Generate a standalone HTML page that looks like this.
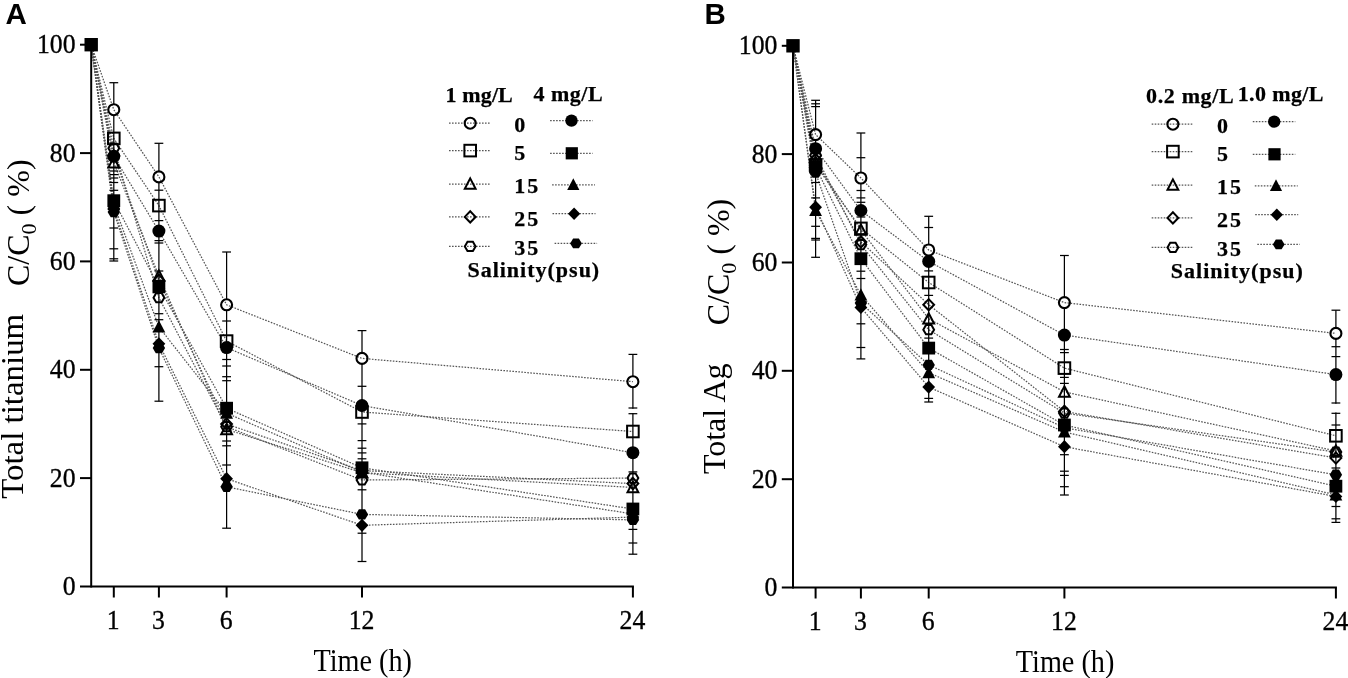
<!DOCTYPE html>
<html><head><meta charset="utf-8"><style>
html,body{margin:0;padding:0;background:#fff;overflow:hidden;}
svg{display:block;filter:grayscale(1);}
.tk{font-family:"Liberation Serif",serif;font-size:28px;fill:#000;stroke:#000;stroke-width:0.35px;}
.lg{font-family:"Liberation Serif",serif;font-weight:bold;font-size:22px;fill:#000;stroke:#000;stroke-width:0.25px;}
.pl{font-family:"Liberation Sans",sans-serif;font-weight:bold;font-size:29.5px;fill:#000;}
.ax{font-family:"Liberation Serif",serif;font-size:31px;fill:#000;}
.yt{font-family:"Liberation Serif",serif;font-size:32px;fill:#000;}
.sub{font-size:22px;}
</style></head><body>
<svg width="1348" height="678" viewBox="0 0 1348 678">
<path d="M91.2,44.7 L113.8,109.7 L158.9,176.9 L226.6,304.8 L362.0,358.4 L632.9,381.7" stroke="#555" stroke-width="1.25" stroke-dasharray="1.6 1.4" fill="none"/>
<path d="M91.2,44.7 L113.8,138.4 L158.9,205.6 L226.6,341.1 L362.0,412.0 L632.9,431.5" stroke="#555" stroke-width="1.25" stroke-dasharray="1.6 1.4" fill="none"/>
<path d="M91.2,44.7 L113.8,162.8 L158.9,276.0 L226.6,429.4 L362.0,472.7 L632.9,487.4" stroke="#555" stroke-width="1.25" stroke-dasharray="1.6 1.4" fill="none"/>
<path d="M91.2,44.7 L113.8,155.8 L158.9,280.4 L226.6,424.0 L362.0,470.6 L632.9,483.6" stroke="#555" stroke-width="1.25" stroke-dasharray="1.6 1.4" fill="none"/>
<path d="M91.2,44.7 L113.8,148.2 L158.9,297.7 L226.6,426.7 L362.0,480.0 L632.9,478.1" stroke="#555" stroke-width="1.25" stroke-dasharray="1.6 1.4" fill="none"/>
<path d="M91.2,44.7 L113.8,156.3 L158.9,231.1 L226.6,347.6 L362.0,405.5 L632.9,452.7" stroke="#555" stroke-width="1.25" stroke-dasharray="1.6 1.4" fill="none"/>
<path d="M91.2,44.7 L113.8,200.7 L158.9,286.9 L226.6,408.2 L362.0,467.8 L632.9,509.0" stroke="#555" stroke-width="1.25" stroke-dasharray="1.6 1.4" fill="none"/>
<path d="M91.2,44.7 L113.8,204.5 L158.9,327.0 L226.6,413.1 L362.0,472.2 L632.9,513.9" stroke="#555" stroke-width="1.25" stroke-dasharray="1.6 1.4" fill="none"/>
<path d="M91.2,44.7 L113.8,208.3 L158.9,343.8 L226.6,478.7 L362.0,525.3 L632.9,517.1" stroke="#555" stroke-width="1.25" stroke-dasharray="1.6 1.4" fill="none"/>
<path d="M91.2,44.7 L113.8,212.1 L158.9,348.1 L226.6,486.8 L362.0,514.4 L632.9,519.9" stroke="#555" stroke-width="1.25" stroke-dasharray="1.6 1.4" fill="none"/>
<line x1="113.8" y1="82.7" x2="113.8" y2="104.7" stroke="#000" stroke-width="1.25"/>
<line x1="113.8" y1="114.7" x2="113.8" y2="261.0" stroke="#000" stroke-width="1.25"/>
<line x1="109.4" y1="82.7" x2="118.2" y2="82.7" stroke="#000" stroke-width="1.25"/>
<line x1="109.4" y1="171.0" x2="118.2" y2="171.0" stroke="#000" stroke-width="1.25"/>
<line x1="109.4" y1="174.6" x2="118.2" y2="174.6" stroke="#000" stroke-width="1.25"/>
<line x1="109.4" y1="178.0" x2="118.2" y2="178.0" stroke="#000" stroke-width="1.25"/>
<line x1="109.4" y1="182.5" x2="118.2" y2="182.5" stroke="#000" stroke-width="1.25"/>
<line x1="109.4" y1="190.3" x2="118.2" y2="190.3" stroke="#000" stroke-width="1.25"/>
<line x1="109.4" y1="228.0" x2="118.2" y2="228.0" stroke="#000" stroke-width="1.25"/>
<line x1="109.4" y1="248.8" x2="118.2" y2="248.8" stroke="#000" stroke-width="1.25"/>
<line x1="109.4" y1="258.8" x2="118.2" y2="258.8" stroke="#000" stroke-width="1.25"/>
<line x1="109.4" y1="261.0" x2="118.2" y2="261.0" stroke="#000" stroke-width="1.25"/>
<line x1="158.9" y1="143.3" x2="158.9" y2="171.9" stroke="#000" stroke-width="1.25"/>
<line x1="158.9" y1="181.9" x2="158.9" y2="401.2" stroke="#000" stroke-width="1.25"/>
<line x1="154.5" y1="143.3" x2="163.3" y2="143.3" stroke="#000" stroke-width="1.25"/>
<line x1="154.5" y1="190.2" x2="163.3" y2="190.2" stroke="#000" stroke-width="1.25"/>
<line x1="154.5" y1="220.6" x2="163.3" y2="220.6" stroke="#000" stroke-width="1.25"/>
<line x1="154.5" y1="240.6" x2="163.3" y2="240.6" stroke="#000" stroke-width="1.25"/>
<line x1="154.5" y1="243.0" x2="163.3" y2="243.0" stroke="#000" stroke-width="1.25"/>
<line x1="154.5" y1="271.0" x2="163.3" y2="271.0" stroke="#000" stroke-width="1.25"/>
<line x1="154.5" y1="313.7" x2="163.3" y2="313.7" stroke="#000" stroke-width="1.25"/>
<line x1="154.5" y1="319.7" x2="163.3" y2="319.7" stroke="#000" stroke-width="1.25"/>
<line x1="154.5" y1="366.7" x2="163.3" y2="366.7" stroke="#000" stroke-width="1.25"/>
<line x1="154.5" y1="401.2" x2="163.3" y2="401.2" stroke="#000" stroke-width="1.25"/>
<line x1="226.6" y1="252.0" x2="226.6" y2="299.8" stroke="#000" stroke-width="1.25"/>
<line x1="226.6" y1="309.8" x2="226.6" y2="528.2" stroke="#000" stroke-width="1.25"/>
<line x1="222.2" y1="252.0" x2="231.0" y2="252.0" stroke="#000" stroke-width="1.25"/>
<line x1="222.2" y1="321.0" x2="231.0" y2="321.0" stroke="#000" stroke-width="1.25"/>
<line x1="222.2" y1="359.5" x2="231.0" y2="359.5" stroke="#000" stroke-width="1.25"/>
<line x1="222.2" y1="366.0" x2="231.0" y2="366.0" stroke="#000" stroke-width="1.25"/>
<line x1="222.2" y1="376.7" x2="231.0" y2="376.7" stroke="#000" stroke-width="1.25"/>
<line x1="222.2" y1="380.7" x2="231.0" y2="380.7" stroke="#000" stroke-width="1.25"/>
<line x1="222.2" y1="441.0" x2="231.0" y2="441.0" stroke="#000" stroke-width="1.25"/>
<line x1="222.2" y1="445.8" x2="231.0" y2="445.8" stroke="#000" stroke-width="1.25"/>
<line x1="222.2" y1="465.0" x2="231.0" y2="465.0" stroke="#000" stroke-width="1.25"/>
<line x1="222.2" y1="528.2" x2="231.0" y2="528.2" stroke="#000" stroke-width="1.25"/>
<line x1="362.0" y1="330.6" x2="362.0" y2="353.4" stroke="#000" stroke-width="1.25"/>
<line x1="362.0" y1="363.4" x2="362.0" y2="561.5" stroke="#000" stroke-width="1.25"/>
<line x1="357.6" y1="330.6" x2="366.4" y2="330.6" stroke="#000" stroke-width="1.25"/>
<line x1="357.6" y1="386.3" x2="366.4" y2="386.3" stroke="#000" stroke-width="1.25"/>
<line x1="357.6" y1="423.9" x2="366.4" y2="423.9" stroke="#000" stroke-width="1.25"/>
<line x1="357.6" y1="440.6" x2="366.4" y2="440.6" stroke="#000" stroke-width="1.25"/>
<line x1="357.6" y1="448.2" x2="366.4" y2="448.2" stroke="#000" stroke-width="1.25"/>
<line x1="357.6" y1="452.9" x2="366.4" y2="452.9" stroke="#000" stroke-width="1.25"/>
<line x1="357.6" y1="458.8" x2="366.4" y2="458.8" stroke="#000" stroke-width="1.25"/>
<line x1="357.6" y1="489.8" x2="366.4" y2="489.8" stroke="#000" stroke-width="1.25"/>
<line x1="357.6" y1="533.2" x2="366.4" y2="533.2" stroke="#000" stroke-width="1.25"/>
<line x1="357.6" y1="561.5" x2="366.4" y2="561.5" stroke="#000" stroke-width="1.25"/>
<line x1="632.9" y1="354.4" x2="632.9" y2="376.7" stroke="#000" stroke-width="1.25"/>
<line x1="632.9" y1="386.7" x2="632.9" y2="408.7" stroke="#000" stroke-width="1.25"/>
<line x1="632.9" y1="413.0" x2="632.9" y2="554.2" stroke="#000" stroke-width="1.25"/>
<line x1="628.5" y1="354.4" x2="637.3" y2="354.4" stroke="#000" stroke-width="1.25"/>
<line x1="628.5" y1="408.0" x2="637.3" y2="408.0" stroke="#000" stroke-width="1.25"/>
<line x1="628.5" y1="413.7" x2="637.3" y2="413.7" stroke="#000" stroke-width="1.25"/>
<line x1="628.5" y1="471.9" x2="637.3" y2="471.9" stroke="#000" stroke-width="1.25"/>
<line x1="628.5" y1="529.4" x2="637.3" y2="529.4" stroke="#000" stroke-width="1.25"/>
<line x1="628.5" y1="543.0" x2="637.3" y2="543.0" stroke="#000" stroke-width="1.25"/>
<line x1="628.5" y1="554.2" x2="637.3" y2="554.2" stroke="#000" stroke-width="1.25"/>
<circle cx="113.8" cy="109.7" r="5.50" fill="none" stroke="#000" stroke-width="2.1"/>
<circle cx="158.9" cy="176.9" r="5.50" fill="none" stroke="#000" stroke-width="2.1"/>
<circle cx="226.6" cy="304.8" r="5.50" fill="none" stroke="#000" stroke-width="2.1"/>
<circle cx="362.0" cy="358.4" r="5.50" fill="none" stroke="#000" stroke-width="2.1"/>
<circle cx="632.9" cy="381.7" r="5.50" fill="none" stroke="#000" stroke-width="2.1"/>
<rect x="108.0" y="132.6" width="11.6" height="11.6" fill="none" stroke="#000" stroke-width="2.0"/>
<rect x="153.1" y="199.8" width="11.6" height="11.6" fill="none" stroke="#000" stroke-width="2.0"/>
<rect x="220.8" y="335.3" width="11.6" height="11.6" fill="none" stroke="#000" stroke-width="2.0"/>
<rect x="356.2" y="406.2" width="11.6" height="11.6" fill="none" stroke="#000" stroke-width="2.0"/>
<rect x="627.1" y="425.7" width="11.6" height="11.6" fill="none" stroke="#000" stroke-width="2.0"/>
<polygon points="113.8,157.2 119.2,167.6 108.4,167.6" fill="none" stroke="#000" stroke-width="2.0" stroke-linejoin="miter"/>
<polygon points="158.9,270.4 164.3,280.8 153.5,280.8" fill="none" stroke="#000" stroke-width="2.0" stroke-linejoin="miter"/>
<polygon points="226.6,423.8 232.0,434.2 221.2,434.2" fill="none" stroke="#000" stroke-width="2.0" stroke-linejoin="miter"/>
<polygon points="362.0,467.1 367.4,477.5 356.6,477.5" fill="none" stroke="#000" stroke-width="2.0" stroke-linejoin="miter"/>
<polygon points="632.9,481.8 638.3,492.2 627.5,492.2" fill="none" stroke="#000" stroke-width="2.0" stroke-linejoin="miter"/>
<polygon points="113.8,150.2 119.2,155.8 113.8,161.4 108.4,155.8" fill="none" stroke="#000" stroke-width="2.0" stroke-linejoin="miter"/>
<polygon points="158.9,274.8 164.3,280.4 158.9,286.0 153.5,280.4" fill="none" stroke="#000" stroke-width="2.0" stroke-linejoin="miter"/>
<polygon points="226.6,418.4 232.0,424.0 226.6,429.6 221.2,424.0" fill="none" stroke="#000" stroke-width="2.0" stroke-linejoin="miter"/>
<polygon points="362.0,465.0 367.4,470.6 362.0,476.2 356.6,470.6" fill="none" stroke="#000" stroke-width="2.0" stroke-linejoin="miter"/>
<polygon points="632.9,478.0 638.3,483.6 632.9,489.2 627.5,483.6" fill="none" stroke="#000" stroke-width="2.0" stroke-linejoin="miter"/>
<polygon points="108.4,148.2 111.1,143.6 116.5,143.6 119.2,148.2 116.5,152.8 111.1,152.8" fill="none" stroke="#000" stroke-width="2.0" stroke-linejoin="miter"/>
<polygon points="153.5,297.7 156.2,293.1 161.6,293.1 164.3,297.7 161.6,302.3 156.2,302.3" fill="none" stroke="#000" stroke-width="2.0" stroke-linejoin="miter"/>
<polygon points="221.2,426.7 223.9,422.1 229.3,422.1 232.0,426.7 229.3,431.3 223.9,431.3" fill="none" stroke="#000" stroke-width="2.0" stroke-linejoin="miter"/>
<polygon points="356.6,480.0 359.3,475.4 364.7,475.4 367.4,480.0 364.7,484.6 359.3,484.6" fill="none" stroke="#000" stroke-width="2.0" stroke-linejoin="miter"/>
<polygon points="627.5,478.1 630.2,473.5 635.6,473.5 638.3,478.1 635.6,482.7 630.2,482.7" fill="none" stroke="#000" stroke-width="2.0" stroke-linejoin="miter"/>
<circle cx="113.8" cy="156.3" r="6.50" fill="#000"/>
<circle cx="158.9" cy="231.1" r="6.50" fill="#000"/>
<circle cx="226.6" cy="347.6" r="6.50" fill="#000"/>
<circle cx="362.0" cy="405.5" r="6.50" fill="#000"/>
<circle cx="632.9" cy="452.7" r="6.50" fill="#000"/>
<rect x="107.4" y="194.3" width="12.8" height="12.8" fill="#000"/>
<rect x="152.5" y="280.5" width="12.8" height="12.8" fill="#000"/>
<rect x="220.2" y="401.8" width="12.8" height="12.8" fill="#000"/>
<rect x="355.6" y="461.4" width="12.8" height="12.8" fill="#000"/>
<rect x="626.5" y="502.6" width="12.8" height="12.8" fill="#000"/>
<polygon points="113.8,197.7 120.2,210.1 107.4,210.1" fill="#000"/>
<polygon points="158.9,320.2 165.3,332.6 152.5,332.6" fill="#000"/>
<polygon points="226.6,406.3 233.0,418.7 220.2,418.7" fill="#000"/>
<polygon points="362.0,465.4 368.4,477.8 355.6,477.8" fill="#000"/>
<polygon points="632.9,507.1 639.3,519.5 626.5,519.5" fill="#000"/>
<polygon points="113.8,201.7 120.2,208.3 113.8,214.9 107.4,208.3" fill="#000"/>
<polygon points="158.9,337.2 165.3,343.8 158.9,350.4 152.5,343.8" fill="#000"/>
<polygon points="226.6,472.1 233.0,478.7 226.6,485.3 220.2,478.7" fill="#000"/>
<polygon points="362.0,518.7 368.4,525.3 362.0,531.9 355.6,525.3" fill="#000"/>
<polygon points="632.9,510.5 639.3,517.1 632.9,523.7 626.5,517.1" fill="#000"/>
<polygon points="107.6,212.1 110.7,206.9 116.9,206.9 120.0,212.1 116.9,217.3 110.7,217.3" fill="#000"/>
<polygon points="152.7,348.1 155.8,342.9 162.0,342.9 165.1,348.1 162.0,353.3 155.8,353.3" fill="#000"/>
<polygon points="220.4,486.8 223.5,481.6 229.7,481.6 232.8,486.8 229.7,492.0 223.5,492.0" fill="#000"/>
<polygon points="355.8,514.4 358.9,509.2 365.1,509.2 368.2,514.4 365.1,519.6 358.9,519.6" fill="#000"/>
<polygon points="626.7,519.9 629.8,514.7 636.0,514.7 639.1,519.9 636.0,525.1 629.8,525.1" fill="#000"/>
<line x1="91.2" y1="44.7" x2="91.2" y2="587.5" stroke="#000" stroke-width="2"/>
<line x1="80.0" y1="586.5" x2="633.9" y2="586.5" stroke="#000" stroke-width="2"/>
<line x1="80.0" y1="478.1" x2="91.2" y2="478.1" stroke="#000" stroke-width="2"/>
<line x1="80.0" y1="369.8" x2="91.2" y2="369.8" stroke="#000" stroke-width="2"/>
<line x1="80.0" y1="261.4" x2="91.2" y2="261.4" stroke="#000" stroke-width="2"/>
<line x1="80.0" y1="153.1" x2="91.2" y2="153.1" stroke="#000" stroke-width="2"/>
<line x1="80.0" y1="44.7" x2="91.2" y2="44.7" stroke="#000" stroke-width="2"/>
<line x1="113.8" y1="586.5" x2="113.8" y2="597.5" stroke="#000" stroke-width="2"/>
<line x1="158.9" y1="586.5" x2="158.9" y2="597.5" stroke="#000" stroke-width="2"/>
<line x1="226.6" y1="586.5" x2="226.6" y2="597.5" stroke="#000" stroke-width="2"/>
<line x1="362.0" y1="586.5" x2="362.0" y2="597.5" stroke="#000" stroke-width="2"/>
<line x1="632.9" y1="586.5" x2="632.9" y2="597.5" stroke="#000" stroke-width="2"/>
<rect x="84.5" y="38.0" width="13.4" height="13.4" fill="#000"/>
<text transform="translate(75.6,594.9) scale(0.92,1)" class="tk" text-anchor="end">0</text>
<text transform="translate(75.6,486.5) scale(0.92,1)" class="tk" text-anchor="end">20</text>
<text transform="translate(75.6,378.2) scale(0.92,1)" class="tk" text-anchor="end">40</text>
<text transform="translate(75.6,269.8) scale(0.92,1)" class="tk" text-anchor="end">60</text>
<text transform="translate(75.6,161.5) scale(0.92,1)" class="tk" text-anchor="end">80</text>
<text transform="translate(75.6,53.1) scale(0.92,1)" class="tk" text-anchor="end">100</text>
<text transform="translate(113.3,628.8) scale(0.92,1)" class="tk" text-anchor="middle">1</text>
<text transform="translate(158.4,628.8) scale(0.92,1)" class="tk" text-anchor="middle">3</text>
<text transform="translate(226.1,628.8) scale(0.92,1)" class="tk" text-anchor="middle">6</text>
<text transform="translate(361.5,628.8) scale(0.92,1)" class="tk" text-anchor="middle">12</text>
<text transform="translate(632.4,628.8) scale(0.92,1)" class="tk" text-anchor="middle">24</text>
<path d="M793.0,45.8 L815.6,134.6 L860.9,178.0 L928.7,250.0 L1064.4,302.6 L1335.9,333.4" stroke="#555" stroke-width="1.25" stroke-dasharray="1.6 1.4" fill="none"/>
<path d="M793.0,45.8 L815.6,165.0 L860.9,228.4 L928.7,282.5 L1064.4,368.1 L1335.9,435.8" stroke="#555" stroke-width="1.25" stroke-dasharray="1.6 1.4" fill="none"/>
<path d="M793.0,45.8 L815.6,162.3 L860.9,230.0 L928.7,318.8 L1064.4,391.9 L1335.9,451.0" stroke="#555" stroke-width="1.25" stroke-dasharray="1.6 1.4" fill="none"/>
<path d="M793.0,45.8 L815.6,159.6 L860.9,241.9 L928.7,304.7 L1064.4,411.4 L1335.9,458.0" stroke="#555" stroke-width="1.25" stroke-dasharray="1.6 1.4" fill="none"/>
<path d="M793.0,45.8 L815.6,155.2 L860.9,244.6 L928.7,329.7 L1064.4,413.1 L1335.9,452.1" stroke="#555" stroke-width="1.25" stroke-dasharray="1.6 1.4" fill="none"/>
<path d="M793.0,45.8 L815.6,148.7 L860.9,210.5 L928.7,261.4 L1064.4,335.1 L1335.9,374.6" stroke="#555" stroke-width="1.25" stroke-dasharray="1.6 1.4" fill="none"/>
<path d="M793.0,45.8 L815.6,167.1 L860.9,258.7 L928.7,348.1 L1064.4,425.0 L1335.9,486.2" stroke="#555" stroke-width="1.25" stroke-dasharray="1.6 1.4" fill="none"/>
<path d="M793.0,45.8 L815.6,210.5 L860.9,295.0 L928.7,372.7 L1064.4,432.0 L1335.9,494.9" stroke="#555" stroke-width="1.25" stroke-dasharray="1.6 1.4" fill="none"/>
<path d="M793.0,45.8 L815.6,207.2 L860.9,307.4 L928.7,387.1 L1064.4,446.7 L1335.9,496.5" stroke="#555" stroke-width="1.25" stroke-dasharray="1.6 1.4" fill="none"/>
<path d="M793.0,45.8 L815.6,172.6 L860.9,303.1 L928.7,364.9 L1064.4,427.7 L1335.9,474.8" stroke="#555" stroke-width="1.25" stroke-dasharray="1.6 1.4" fill="none"/>
<line x1="815.6" y1="100.3" x2="815.6" y2="129.6" stroke="#000" stroke-width="1.25"/>
<line x1="815.6" y1="139.6" x2="815.6" y2="257.3" stroke="#000" stroke-width="1.25"/>
<line x1="811.2" y1="100.3" x2="820.0" y2="100.3" stroke="#000" stroke-width="1.25"/>
<line x1="811.2" y1="103.8" x2="820.0" y2="103.8" stroke="#000" stroke-width="1.25"/>
<line x1="811.2" y1="106.6" x2="820.0" y2="106.6" stroke="#000" stroke-width="1.25"/>
<line x1="811.2" y1="182.5" x2="820.0" y2="182.5" stroke="#000" stroke-width="1.25"/>
<line x1="811.2" y1="197.9" x2="820.0" y2="197.9" stroke="#000" stroke-width="1.25"/>
<line x1="811.2" y1="226.3" x2="820.0" y2="226.3" stroke="#000" stroke-width="1.25"/>
<line x1="811.2" y1="238.4" x2="820.0" y2="238.4" stroke="#000" stroke-width="1.25"/>
<line x1="811.2" y1="240.0" x2="820.0" y2="240.0" stroke="#000" stroke-width="1.25"/>
<line x1="811.2" y1="257.3" x2="820.0" y2="257.3" stroke="#000" stroke-width="1.25"/>
<line x1="860.9" y1="133.0" x2="860.9" y2="173.0" stroke="#000" stroke-width="1.25"/>
<line x1="860.9" y1="183.0" x2="860.9" y2="358.9" stroke="#000" stroke-width="1.25"/>
<line x1="856.5" y1="133.0" x2="865.3" y2="133.0" stroke="#000" stroke-width="1.25"/>
<line x1="856.5" y1="157.7" x2="865.3" y2="157.7" stroke="#000" stroke-width="1.25"/>
<line x1="856.5" y1="190.5" x2="865.3" y2="190.5" stroke="#000" stroke-width="1.25"/>
<line x1="856.5" y1="197.9" x2="865.3" y2="197.9" stroke="#000" stroke-width="1.25"/>
<line x1="856.5" y1="202.3" x2="865.3" y2="202.3" stroke="#000" stroke-width="1.25"/>
<line x1="856.5" y1="217.0" x2="865.3" y2="217.0" stroke="#000" stroke-width="1.25"/>
<line x1="856.5" y1="271.2" x2="865.3" y2="271.2" stroke="#000" stroke-width="1.25"/>
<line x1="856.5" y1="278.5" x2="865.3" y2="278.5" stroke="#000" stroke-width="1.25"/>
<line x1="856.5" y1="323.8" x2="865.3" y2="323.8" stroke="#000" stroke-width="1.25"/>
<line x1="856.5" y1="347.5" x2="865.3" y2="347.5" stroke="#000" stroke-width="1.25"/>
<line x1="856.5" y1="358.9" x2="865.3" y2="358.9" stroke="#000" stroke-width="1.25"/>
<line x1="928.7" y1="216.3" x2="928.7" y2="245.0" stroke="#000" stroke-width="1.25"/>
<line x1="928.7" y1="255.0" x2="928.7" y2="402.0" stroke="#000" stroke-width="1.25"/>
<line x1="924.3" y1="216.3" x2="933.1" y2="216.3" stroke="#000" stroke-width="1.25"/>
<line x1="924.3" y1="227.5" x2="933.1" y2="227.5" stroke="#000" stroke-width="1.25"/>
<line x1="924.3" y1="270.9" x2="933.1" y2="270.9" stroke="#000" stroke-width="1.25"/>
<line x1="924.3" y1="295.4" x2="933.1" y2="295.4" stroke="#000" stroke-width="1.25"/>
<line x1="924.3" y1="338.1" x2="933.1" y2="338.1" stroke="#000" stroke-width="1.25"/>
<line x1="924.3" y1="398.4" x2="933.1" y2="398.4" stroke="#000" stroke-width="1.25"/>
<line x1="924.3" y1="402.0" x2="933.1" y2="402.0" stroke="#000" stroke-width="1.25"/>
<line x1="1064.4" y1="255.5" x2="1064.4" y2="297.6" stroke="#000" stroke-width="1.25"/>
<line x1="1064.4" y1="307.6" x2="1064.4" y2="495.0" stroke="#000" stroke-width="1.25"/>
<line x1="1060.0" y1="255.5" x2="1068.8" y2="255.5" stroke="#000" stroke-width="1.25"/>
<line x1="1060.0" y1="349.5" x2="1068.8" y2="349.5" stroke="#000" stroke-width="1.25"/>
<line x1="1060.0" y1="352.6" x2="1068.8" y2="352.6" stroke="#000" stroke-width="1.25"/>
<line x1="1060.0" y1="377.4" x2="1068.8" y2="377.4" stroke="#000" stroke-width="1.25"/>
<line x1="1060.0" y1="383.4" x2="1068.8" y2="383.4" stroke="#000" stroke-width="1.25"/>
<line x1="1060.0" y1="454.7" x2="1068.8" y2="454.7" stroke="#000" stroke-width="1.25"/>
<line x1="1060.0" y1="471.2" x2="1068.8" y2="471.2" stroke="#000" stroke-width="1.25"/>
<line x1="1060.0" y1="475.4" x2="1068.8" y2="475.4" stroke="#000" stroke-width="1.25"/>
<line x1="1060.0" y1="486.7" x2="1068.8" y2="486.7" stroke="#000" stroke-width="1.25"/>
<line x1="1060.0" y1="495.0" x2="1068.8" y2="495.0" stroke="#000" stroke-width="1.25"/>
<line x1="1335.9" y1="310.2" x2="1335.9" y2="328.4" stroke="#000" stroke-width="1.25"/>
<line x1="1335.9" y1="338.4" x2="1335.9" y2="403.7" stroke="#000" stroke-width="1.25"/>
<line x1="1335.9" y1="412.6" x2="1335.9" y2="522.4" stroke="#000" stroke-width="1.25"/>
<line x1="1331.5" y1="310.2" x2="1340.3" y2="310.2" stroke="#000" stroke-width="1.25"/>
<line x1="1331.5" y1="346.7" x2="1340.3" y2="346.7" stroke="#000" stroke-width="1.25"/>
<line x1="1331.5" y1="356.6" x2="1340.3" y2="356.6" stroke="#000" stroke-width="1.25"/>
<line x1="1331.5" y1="403.0" x2="1340.3" y2="403.0" stroke="#000" stroke-width="1.25"/>
<line x1="1331.5" y1="413.3" x2="1340.3" y2="413.3" stroke="#000" stroke-width="1.25"/>
<line x1="1331.5" y1="425.0" x2="1340.3" y2="425.0" stroke="#000" stroke-width="1.25"/>
<line x1="1331.5" y1="468.0" x2="1340.3" y2="468.0" stroke="#000" stroke-width="1.25"/>
<line x1="1331.5" y1="506.5" x2="1340.3" y2="506.5" stroke="#000" stroke-width="1.25"/>
<line x1="1331.5" y1="518.8" x2="1340.3" y2="518.8" stroke="#000" stroke-width="1.25"/>
<line x1="1331.5" y1="522.4" x2="1340.3" y2="522.4" stroke="#000" stroke-width="1.25"/>
<circle cx="815.6" cy="134.6" r="5.50" fill="none" stroke="#000" stroke-width="2.1"/>
<circle cx="860.9" cy="178.0" r="5.50" fill="none" stroke="#000" stroke-width="2.1"/>
<circle cx="928.7" cy="250.0" r="5.50" fill="none" stroke="#000" stroke-width="2.1"/>
<circle cx="1064.4" cy="302.6" r="5.50" fill="none" stroke="#000" stroke-width="2.1"/>
<circle cx="1335.9" cy="333.4" r="5.50" fill="none" stroke="#000" stroke-width="2.1"/>
<rect x="809.8" y="159.2" width="11.6" height="11.6" fill="none" stroke="#000" stroke-width="2.0"/>
<rect x="855.1" y="222.6" width="11.6" height="11.6" fill="none" stroke="#000" stroke-width="2.0"/>
<rect x="922.9" y="276.7" width="11.6" height="11.6" fill="none" stroke="#000" stroke-width="2.0"/>
<rect x="1058.6" y="362.3" width="11.6" height="11.6" fill="none" stroke="#000" stroke-width="2.0"/>
<rect x="1330.1" y="430.0" width="11.6" height="11.6" fill="none" stroke="#000" stroke-width="2.0"/>
<polygon points="815.6,156.7 821.0,167.1 810.2,167.1" fill="none" stroke="#000" stroke-width="2.0" stroke-linejoin="miter"/>
<polygon points="860.9,224.4 866.3,234.8 855.5,234.8" fill="none" stroke="#000" stroke-width="2.0" stroke-linejoin="miter"/>
<polygon points="928.7,313.2 934.1,323.6 923.3,323.6" fill="none" stroke="#000" stroke-width="2.0" stroke-linejoin="miter"/>
<polygon points="1064.4,386.3 1069.8,396.7 1059.0,396.7" fill="none" stroke="#000" stroke-width="2.0" stroke-linejoin="miter"/>
<polygon points="1335.9,445.4 1341.3,455.8 1330.5,455.8" fill="none" stroke="#000" stroke-width="2.0" stroke-linejoin="miter"/>
<polygon points="815.6,154.0 821.0,159.6 815.6,165.2 810.2,159.6" fill="none" stroke="#000" stroke-width="2.0" stroke-linejoin="miter"/>
<polygon points="860.9,236.3 866.3,241.9 860.9,247.5 855.5,241.9" fill="none" stroke="#000" stroke-width="2.0" stroke-linejoin="miter"/>
<polygon points="928.7,299.1 934.1,304.7 928.7,310.3 923.3,304.7" fill="none" stroke="#000" stroke-width="2.0" stroke-linejoin="miter"/>
<polygon points="1064.4,405.8 1069.8,411.4 1064.4,417.0 1059.0,411.4" fill="none" stroke="#000" stroke-width="2.0" stroke-linejoin="miter"/>
<polygon points="1335.9,452.4 1341.3,458.0 1335.9,463.6 1330.5,458.0" fill="none" stroke="#000" stroke-width="2.0" stroke-linejoin="miter"/>
<polygon points="810.2,155.2 812.9,150.6 818.3,150.6 821.0,155.2 818.3,159.8 812.9,159.8" fill="none" stroke="#000" stroke-width="2.0" stroke-linejoin="miter"/>
<polygon points="855.5,244.6 858.2,240.0 863.6,240.0 866.3,244.6 863.6,249.2 858.2,249.2" fill="none" stroke="#000" stroke-width="2.0" stroke-linejoin="miter"/>
<polygon points="923.3,329.7 926.0,325.1 931.4,325.1 934.1,329.7 931.4,334.3 926.0,334.3" fill="none" stroke="#000" stroke-width="2.0" stroke-linejoin="miter"/>
<polygon points="1059.0,413.1 1061.7,408.5 1067.1,408.5 1069.8,413.1 1067.1,417.7 1061.7,417.7" fill="none" stroke="#000" stroke-width="2.0" stroke-linejoin="miter"/>
<polygon points="1330.5,452.1 1333.2,447.5 1338.6,447.5 1341.3,452.1 1338.6,456.7 1333.2,456.7" fill="none" stroke="#000" stroke-width="2.0" stroke-linejoin="miter"/>
<circle cx="815.6" cy="148.7" r="6.50" fill="#000"/>
<circle cx="860.9" cy="210.5" r="6.50" fill="#000"/>
<circle cx="928.7" cy="261.4" r="6.50" fill="#000"/>
<circle cx="1064.4" cy="335.1" r="6.50" fill="#000"/>
<circle cx="1335.9" cy="374.6" r="6.50" fill="#000"/>
<rect x="809.2" y="160.7" width="12.8" height="12.8" fill="#000"/>
<rect x="854.5" y="252.3" width="12.8" height="12.8" fill="#000"/>
<rect x="922.3" y="341.7" width="12.8" height="12.8" fill="#000"/>
<rect x="1058.0" y="418.6" width="12.8" height="12.8" fill="#000"/>
<rect x="1329.5" y="479.8" width="12.8" height="12.8" fill="#000"/>
<polygon points="815.6,203.7 822.0,216.1 809.2,216.1" fill="#000"/>
<polygon points="860.9,288.2 867.3,300.6 854.5,300.6" fill="#000"/>
<polygon points="928.7,365.9 935.1,378.3 922.3,378.3" fill="#000"/>
<polygon points="1064.4,425.2 1070.8,437.6 1058.0,437.6" fill="#000"/>
<polygon points="1335.9,488.1 1342.3,500.5 1329.5,500.5" fill="#000"/>
<polygon points="815.6,200.6 822.0,207.2 815.6,213.8 809.2,207.2" fill="#000"/>
<polygon points="860.9,300.8 867.3,307.4 860.9,314.0 854.5,307.4" fill="#000"/>
<polygon points="928.7,380.5 935.1,387.1 928.7,393.7 922.3,387.1" fill="#000"/>
<polygon points="1064.4,440.1 1070.8,446.7 1064.4,453.3 1058.0,446.7" fill="#000"/>
<polygon points="1335.9,489.9 1342.3,496.5 1335.9,503.1 1329.5,496.5" fill="#000"/>
<polygon points="809.4,172.6 812.5,167.4 818.7,167.4 821.8,172.6 818.7,177.8 812.5,177.8" fill="#000"/>
<polygon points="854.7,303.1 857.8,297.9 864.0,297.9 867.1,303.1 864.0,308.3 857.8,308.3" fill="#000"/>
<polygon points="922.5,364.9 925.6,359.7 931.8,359.7 934.9,364.9 931.8,370.1 925.6,370.1" fill="#000"/>
<polygon points="1058.2,427.7 1061.3,422.5 1067.5,422.5 1070.6,427.7 1067.5,432.9 1061.3,432.9" fill="#000"/>
<polygon points="1329.7,474.8 1332.8,469.6 1339.0,469.6 1342.1,474.8 1339.0,480.0 1332.8,480.0" fill="#000"/>
<line x1="793.0" y1="45.8" x2="793.0" y2="588.5" stroke="#000" stroke-width="2"/>
<line x1="781.8" y1="587.5" x2="1336.9" y2="587.5" stroke="#000" stroke-width="2"/>
<line x1="781.8" y1="479.2" x2="793.0" y2="479.2" stroke="#000" stroke-width="2"/>
<line x1="781.8" y1="370.8" x2="793.0" y2="370.8" stroke="#000" stroke-width="2"/>
<line x1="781.8" y1="262.5" x2="793.0" y2="262.5" stroke="#000" stroke-width="2"/>
<line x1="781.8" y1="154.1" x2="793.0" y2="154.1" stroke="#000" stroke-width="2"/>
<line x1="781.8" y1="45.8" x2="793.0" y2="45.8" stroke="#000" stroke-width="2"/>
<line x1="815.6" y1="587.5" x2="815.6" y2="598.5" stroke="#000" stroke-width="2"/>
<line x1="860.9" y1="587.5" x2="860.9" y2="598.5" stroke="#000" stroke-width="2"/>
<line x1="928.7" y1="587.5" x2="928.7" y2="598.5" stroke="#000" stroke-width="2"/>
<line x1="1064.4" y1="587.5" x2="1064.4" y2="598.5" stroke="#000" stroke-width="2"/>
<line x1="1335.9" y1="587.5" x2="1335.9" y2="598.5" stroke="#000" stroke-width="2"/>
<rect x="786.3" y="39.1" width="13.4" height="13.4" fill="#000"/>
<text transform="translate(777.4,595.9) scale(0.92,1)" class="tk" text-anchor="end">0</text>
<text transform="translate(777.4,487.6) scale(0.92,1)" class="tk" text-anchor="end">20</text>
<text transform="translate(777.4,379.2) scale(0.92,1)" class="tk" text-anchor="end">40</text>
<text transform="translate(777.4,270.9) scale(0.92,1)" class="tk" text-anchor="end">60</text>
<text transform="translate(777.4,162.5) scale(0.92,1)" class="tk" text-anchor="end">80</text>
<text transform="translate(777.4,54.2) scale(0.92,1)" class="tk" text-anchor="end">100</text>
<text transform="translate(815.1,629.8) scale(0.92,1)" class="tk" text-anchor="middle">1</text>
<text transform="translate(860.4,629.8) scale(0.92,1)" class="tk" text-anchor="middle">3</text>
<text transform="translate(928.2,629.8) scale(0.92,1)" class="tk" text-anchor="middle">6</text>
<text transform="translate(1063.9,629.8) scale(0.92,1)" class="tk" text-anchor="middle">12</text>
<text transform="translate(1335.4,629.8) scale(0.92,1)" class="tk" text-anchor="middle">24</text>
<line x1="449.0" y1="123.2" x2="491.0" y2="123.2" stroke="#555" stroke-width="1.25" stroke-dasharray="1.6 1.4" fill="none"/>
<circle cx="470.2" cy="123.2" r="5.50" fill="none" stroke="#000" stroke-width="2.1"/>
<line x1="550.1" y1="120.7" x2="592.6" y2="120.7" stroke="#555" stroke-width="1.25" stroke-dasharray="1.6 1.4" fill="none"/>
<circle cx="571.5" cy="120.7" r="6.17" fill="#000"/>
<line x1="449.0" y1="150.6" x2="491.0" y2="150.6" stroke="#555" stroke-width="1.25" stroke-dasharray="1.6 1.4" fill="none"/>
<rect x="464.4" y="144.8" width="11.6" height="11.6" fill="none" stroke="#000" stroke-width="2.0"/>
<line x1="550.1" y1="153.3" x2="592.6" y2="153.3" stroke="#555" stroke-width="1.25" stroke-dasharray="1.6 1.4" fill="none"/>
<rect x="565.7" y="147.2" width="12.2" height="12.2" fill="#000"/>
<line x1="449.0" y1="184.0" x2="491.0" y2="184.0" stroke="#555" stroke-width="1.25" stroke-dasharray="1.6 1.4" fill="none"/>
<polygon points="470.2,178.4 475.6,188.8 464.8,188.8" fill="none" stroke="#000" stroke-width="2.0" stroke-linejoin="miter"/>
<line x1="552.1" y1="184.8" x2="595.0" y2="184.8" stroke="#555" stroke-width="1.25" stroke-dasharray="1.6 1.4" fill="none"/>
<polygon points="573.3,178.3 579.4,190.1 567.2,190.1" fill="#000"/>
<line x1="449.0" y1="216.9" x2="491.0" y2="216.9" stroke="#555" stroke-width="1.25" stroke-dasharray="1.6 1.4" fill="none"/>
<polygon points="470.2,211.3 475.6,216.9 470.2,222.5 464.8,216.9" fill="none" stroke="#000" stroke-width="2.0" stroke-linejoin="miter"/>
<line x1="552.5" y1="213.7" x2="595.5" y2="213.7" stroke="#555" stroke-width="1.25" stroke-dasharray="1.6 1.4" fill="none"/>
<polygon points="574.1,207.4 580.2,213.7 574.1,220.0 568.0,213.7" fill="#000"/>
<line x1="449.0" y1="246.4" x2="491.0" y2="246.4" stroke="#555" stroke-width="1.25" stroke-dasharray="1.6 1.4" fill="none"/>
<polygon points="464.8,246.4 467.5,241.8 472.9,241.8 475.6,246.4 472.9,251.0 467.5,251.0" fill="none" stroke="#000" stroke-width="2.0" stroke-linejoin="miter"/>
<line x1="554.6" y1="243.4" x2="597.1" y2="243.4" stroke="#555" stroke-width="1.25" stroke-dasharray="1.6 1.4" fill="none"/>
<polygon points="570.1,243.4 573.1,238.5 578.9,238.5 581.9,243.4 578.9,248.3 573.1,248.3" fill="#000"/>
<text x="514.3" y="131.8" class="lg" letter-spacing="2">0</text>
<text x="514.3" y="159.8" class="lg" letter-spacing="2">5</text>
<text x="514.3" y="193.3" class="lg" letter-spacing="2">15</text>
<text x="514.3" y="226.0" class="lg" letter-spacing="2">25</text>
<text x="514.3" y="255.3" class="lg" letter-spacing="2">35</text>
<text x="445.6" y="102.0" class="lg" textLength="67.2" lengthAdjust="spacing">1 mg/L</text>
<text x="533.6" y="100.5" class="lg" textLength="69.0" lengthAdjust="spacing">4 mg/L</text>
<text x="467.4" y="276.5" class="lg" textLength="131.8" lengthAdjust="spacing">Salinity(psu)</text>
<line x1="1151.7" y1="124.2" x2="1193.7" y2="124.2" stroke="#555" stroke-width="1.25" stroke-dasharray="1.6 1.4" fill="none"/>
<circle cx="1172.9" cy="124.2" r="5.50" fill="none" stroke="#000" stroke-width="2.1"/>
<line x1="1252.8" y1="121.7" x2="1295.3" y2="121.7" stroke="#555" stroke-width="1.25" stroke-dasharray="1.6 1.4" fill="none"/>
<circle cx="1274.2" cy="121.7" r="6.17" fill="#000"/>
<line x1="1151.7" y1="151.6" x2="1193.7" y2="151.6" stroke="#555" stroke-width="1.25" stroke-dasharray="1.6 1.4" fill="none"/>
<rect x="1167.1" y="145.8" width="11.6" height="11.6" fill="none" stroke="#000" stroke-width="2.0"/>
<line x1="1252.8" y1="154.3" x2="1295.3" y2="154.3" stroke="#555" stroke-width="1.25" stroke-dasharray="1.6 1.4" fill="none"/>
<rect x="1268.4" y="148.2" width="12.2" height="12.2" fill="#000"/>
<line x1="1151.7" y1="185.0" x2="1193.7" y2="185.0" stroke="#555" stroke-width="1.25" stroke-dasharray="1.6 1.4" fill="none"/>
<polygon points="1172.9,179.4 1178.3,189.8 1167.5,189.8" fill="none" stroke="#000" stroke-width="2.0" stroke-linejoin="miter"/>
<line x1="1254.8" y1="185.8" x2="1297.7" y2="185.8" stroke="#555" stroke-width="1.25" stroke-dasharray="1.6 1.4" fill="none"/>
<polygon points="1276.0,179.3 1282.1,191.1 1269.9,191.1" fill="#000"/>
<line x1="1151.7" y1="217.9" x2="1193.7" y2="217.9" stroke="#555" stroke-width="1.25" stroke-dasharray="1.6 1.4" fill="none"/>
<polygon points="1172.9,212.3 1178.3,217.9 1172.9,223.5 1167.5,217.9" fill="none" stroke="#000" stroke-width="2.0" stroke-linejoin="miter"/>
<line x1="1255.2" y1="214.7" x2="1298.2" y2="214.7" stroke="#555" stroke-width="1.25" stroke-dasharray="1.6 1.4" fill="none"/>
<polygon points="1276.8,208.4 1282.9,214.7 1276.8,221.0 1270.7,214.7" fill="#000"/>
<line x1="1151.7" y1="247.4" x2="1193.7" y2="247.4" stroke="#555" stroke-width="1.25" stroke-dasharray="1.6 1.4" fill="none"/>
<polygon points="1167.5,247.4 1170.2,242.8 1175.6,242.8 1178.3,247.4 1175.6,252.0 1170.2,252.0" fill="none" stroke="#000" stroke-width="2.0" stroke-linejoin="miter"/>
<line x1="1257.3" y1="244.4" x2="1299.8" y2="244.4" stroke="#555" stroke-width="1.25" stroke-dasharray="1.6 1.4" fill="none"/>
<polygon points="1272.8,244.4 1275.8,239.5 1281.6,239.5 1284.6,244.4 1281.6,249.3 1275.8,249.3" fill="#000"/>
<text x="1217.0" y="132.8" class="lg" letter-spacing="2">0</text>
<text x="1217.0" y="160.8" class="lg" letter-spacing="2">5</text>
<text x="1217.0" y="194.3" class="lg" letter-spacing="2">15</text>
<text x="1217.0" y="227.0" class="lg" letter-spacing="2">25</text>
<text x="1217.0" y="256.3" class="lg" letter-spacing="2">35</text>
<text x="1146.1" y="103.3" class="lg" textLength="87.6" lengthAdjust="spacing">0.2 mg/L</text>
<text x="1237.7" y="101.4" class="lg" textLength="85.8" lengthAdjust="spacing">1.0 mg/L</text>
<text x="1170.7" y="277.5" class="lg" textLength="132.2" lengthAdjust="spacing">Salinity(psu)</text>
<text x="5.5" y="24.3" class="pl">A</text>
<text x="704.5" y="23.8" class="pl">B</text>
<text x="313.5" y="670.5" class="ax" textLength="98.5" lengthAdjust="spacingAndGlyphs">Time (h)</text>
<text x="1015.8" y="671.5" class="ax" textLength="98.5" lengthAdjust="spacingAndGlyphs">Time (h)</text>
<text transform="translate(22.7,498.8) rotate(-90)" class="yt" textLength="185" lengthAdjust="spacingAndGlyphs">Total titanium</text>
<text transform="translate(28.8,286) rotate(-90)" class="yt">C/C<tspan class="sub" dy="7">0</tspan><tspan dy="-7"> ( %)</tspan></text>
<text transform="translate(725.4,474.1) rotate(-90)" class="yt">Total Ag</text>
<text transform="translate(729,325.3) rotate(-90)" class="yt">C/C<tspan class="sub" dy="7">0</tspan><tspan dy="-7"> ( %)</tspan></text>
</svg>
</body></html>
